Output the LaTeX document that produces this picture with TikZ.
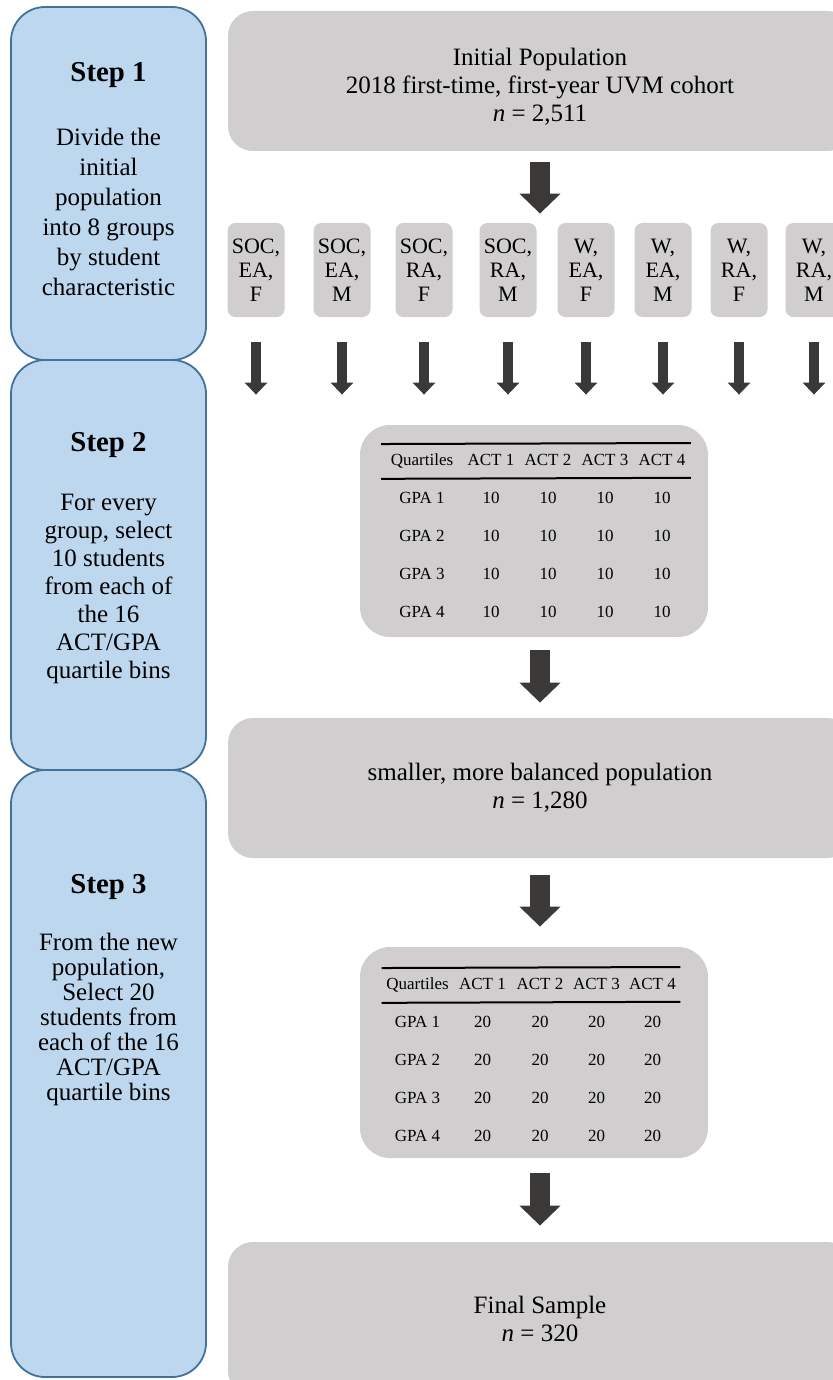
\documentclass[tikz,border=0pt]{standalone}
\usepackage{fontspec}
\setmainfont{Liberation Serif}
\usetikzlibrary{positioning,arrows.meta,matrix}

\definecolor{stepblue}{HTML}{BDD7EE}
\definecolor{stepedge}{HTML}{41719C}
\definecolor{boxgray}{HTML}{D0CECE}
\definecolor{arrowgray}{HTML}{3B3838}

\newcommand{\stephead}{\fontsize{14.4}{15}\selectfont\bfseries}
\newcommand{\tightlines}{\lineskiplimit=-20pt\relax}

\tikzset{
	stepbox/.style={draw=stepedge, line width=0.9pt, fill=stepblue, rounded corners=17pt, minimum width=97.5pt},
	steptext/.style={align=center, inner sep=0pt},
	popbox/.style={fill=boxgray, rounded corners=12.5pt, minimum width=312pt, align=center, font=\fontsize{12.5}{14}\selectfont},
	groupbox/.style={fill=boxgray, rounded corners=4pt, minimum width=28.5pt, minimum height=47pt, inner sep=0pt, align=center, font=\fontsize{11}{12}\selectfont},
	tablebox/.style={fill=boxgray, rounded corners=15pt, minimum width=174pt},
	acttable/.style={matrix of nodes, inner sep=0pt, row sep=0pt, column sep=0pt,
		nodes={inner sep=0pt, minimum height=19pt, minimum width=28.5pt, font=\fontsize{8.5}{10}\selectfont},
		row 1/.style={nodes={minimum height=17pt}}},
	tablerule/.style={line width=1pt},
	bigarrow/.style={arrowgray, line width=10pt, -{Triangle[length=10pt,width=20pt]}},
	smallarrow/.style={arrowgray, line width=5pt, -{Triangle[length=6pt,width=11pt]}},
}

\begin{document}
\begin{tikzpicture}[x=0.5pt, y=-0.5pt]
	\useasboundingbox (0,0) rectangle (833,1380);
	% steps on the left
	\node [stepbox, minimum height=176.5pt] (step1) at (108.5,183.5) {};
	\node [stepbox, minimum height=205pt] (step2) at (108.5,565) {};
	\node [stepbox, minimum height=303.5pt] (step3) at (108.5,1073.5) {};
	\node [steptext, font=\fontsize{12.5}{15}\selectfont] (step1txt) at (108.5,179)
		{{\stephead Step 1}\\[17pt]Divide the\\initial\\population\\into 8 groups\\by student\\characteristic};
	\node [steptext, font=\fontsize{12.5}{14}\selectfont] (step2txt) at (108.5,558)
		{{\stephead Step 2}\\[15.5pt]For every\\group, select\\10 students\\from each of\\the 16\\ACT/GPA\\quartile bins};
	\node [steptext, font=\fontsize{12.5}{12.5}\selectfont\tightlines] (step3txt) at (108.5,990)
		{{\stephead Step 3}\\[16pt]From the new\\population,\\Select 20\\students from\\each of the 16\\ACT/GPA\\quartile bins};

	% populations
	\node [popbox, minimum height=70pt] (init) at (540,81)
		{\rule{0pt}{14.5pt}Initial Population\\2018 first-time, first-year UVM cohort\\\textit{n} = 2,511};
	\node [popbox, minimum height=70pt] (mid) at (540,788)
		{smaller, more balanced population\\\textit{n} = 1,280};
	\node [popbox, minimum height=77pt] (final) at (540,1319)
		{Final Sample\\\textit{n} = 320};

	% quartile tables
	\node [tablebox, minimum height=106pt] (tab1box) at (534,531) {};
	\matrix (tab1) [acttable, anchor=north, column 1/.style={nodes={minimum width=40.5pt}}] at (536,443) {
		Quartiles & ACT 1 & ACT 2 & ACT 3 & ACT 4 \\
		GPA 1 & 10 & 10 & 10 & 10 \\
		GPA 2 & 10 & 10 & 10 & 10 \\
		GPA 3 & 10 & 10 & 10 & 10 \\
		GPA 4 & 10 & 10 & 10 & 10 \\
	};
	\draw [tablerule] (tab1-1-1.north west) -- (tab1-1-5.north east);
	\draw [tablerule] (tab1-1-1.south west) -- (tab1-1-5.south east);

	\node [tablebox, minimum height=105.5pt] (tab2box) at (534,1052.5) {};
	\matrix (tab2) [acttable, anchor=north, column 1/.style={nodes={minimum width=35.5pt}},
		column 2/.style={nodes={minimum width=29.5pt}}, column 3/.style={nodes={minimum width=28pt}},
		column 5/.style={nodes={minimum width=27.5pt}}] at (531,967) {
		Quartiles & ACT 1 & ACT 2 & ACT 3 & ACT 4 \\
		GPA 1 & 20 & 20 & 20 & 20 \\
		GPA 2 & 20 & 20 & 20 & 20 \\
		GPA 3 & 20 & 20 & 20 & 20 \\
		GPA 4 & 20 & 20 & 20 & 20 \\
	};
	\draw [tablerule] (tab2-1-1.north west) -- (tab2-1-5.north east);
	\draw [tablerule] (tab2-1-1.south west) -- (tab2-1-5.south east);

	% groups by student characteristic
	\foreach \gx/\gname/\gtext in {256/g1/{SOC,\\EA,\\F}, 342/g2/{SOC,\\EA,\\M}, 424/g3/{SOC,\\RA,\\F}, 508/g4/{SOC,\\RA,\\M},
		586/g5/{W,\\EA,\\F}, 663/g6/{W,\\EA,\\M}, 739/g7/{W,\\RA,\\F}, 814/g8/{W,\\RA,\\M}} {
		\node [groupbox] (\gname) at (\gx,270) {\gtext};
		\draw [smallarrow, shorten <=12.5pt, shorten >=15pt] (\gname.south) -- (\gname.south |- tab1box.north);
	}

	% block arrows
	\draw [bigarrow, shorten <=5.5pt, shorten >=4.5pt] (init.south) -- (init.south |- g4.north);
	\draw [bigarrow, shorten <=6.5pt, shorten >=7.5pt] (mid.north |- tab1box.south) -- (mid.north);
	\draw [bigarrow, shorten <=8.5pt, shorten >=10pt] (mid.south) -- (mid.south |- tab2box.north);
	\draw [bigarrow, shorten <=7.5pt, shorten >=8pt] (final.north |- tab2box.south) -- (final.north);
\end{tikzpicture}
\end{document}
